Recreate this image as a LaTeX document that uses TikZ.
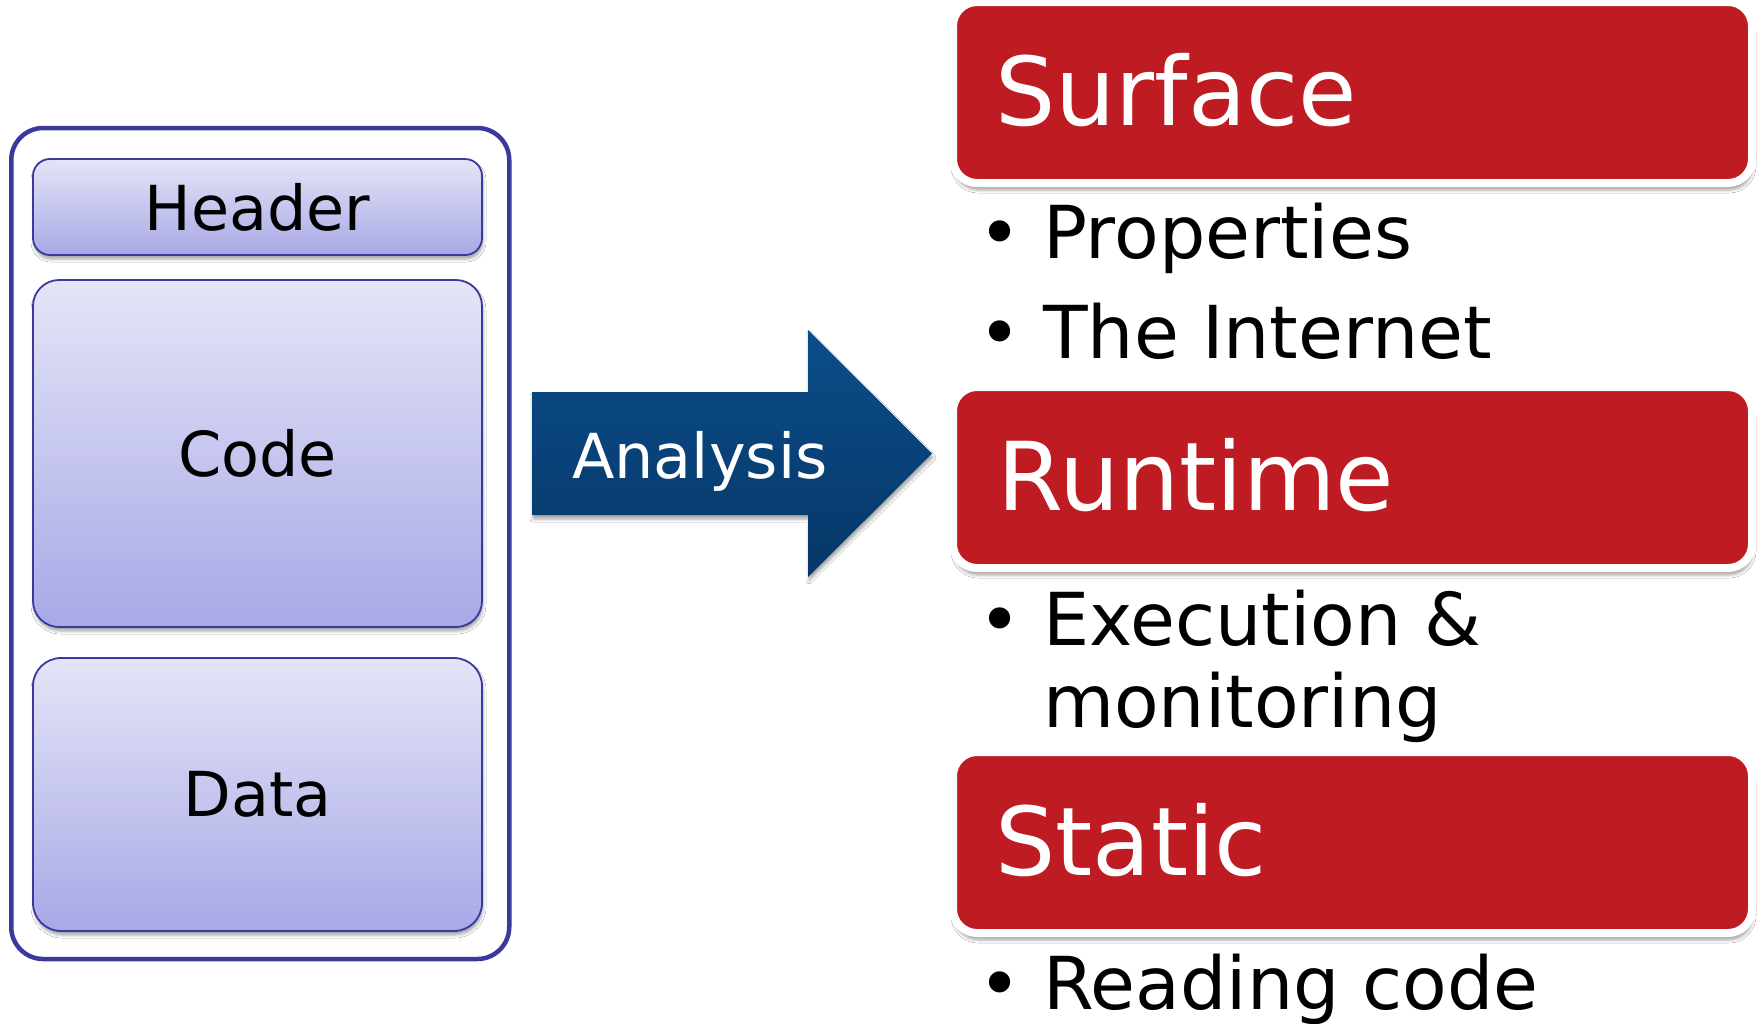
\documentclass[tikz,border=0pt]{standalone}
\usepackage{fontspec}
\setmainfont{DejaVu Sans}
\usetikzlibrary{shadows.blur}

\definecolor{frameblue}{HTML}{3A3A9C}
\definecolor{parttop}{HTML}{E4E5F7}
\definecolor{partbot}{HTML}{A8A8E7}
\definecolor{arrowtop}{HTML}{0B4D8A}
\definecolor{arrowbot}{HTML}{063767}
\definecolor{kindred}{HTML}{BE1B22}

\tikzset{
  softshadow/.style={blur shadow={shadow xshift=1pt, shadow yshift=-4pt,
      shadow blur radius=3pt, shadow opacity=35}},
  container/.style={draw=frameblue, line width=4.5pt, rounded corners=32pt,
      minimum width=498pt, minimum height=831pt, inner sep=0pt},
  part/.style={draw=frameblue, line width=1.8pt, top color=parttop,
      bottom color=partbot, softshadow, minimum width=449pt, inner sep=0pt,
      font=\fontsize{62}{70}\selectfont, text=black},
  kind/.style={fill=kindred, draw=white, line width=8pt, rounded corners=24pt,
      minimum width=799pt, minimum height=181pt, inner sep=0pt,
      blur shadow={shadow xshift=1pt, shadow yshift=-7pt,
      shadow blur radius=3pt, shadow opacity=35}},
  kindtitle/.style={anchor=base west, inner sep=0pt, text=white,
      font=\fontsize{95}{100}\selectfont},
  item/.style={anchor=base west, inner sep=0pt, text=black,
      font=\fontsize{73}{82}\selectfont},
  dot/.style={anchor=base, inner sep=0pt, text=black,
      font=\fontsize{73}{82}\selectfont},
}

\begin{document}
\begin{tikzpicture}[x=1pt, y=-1pt]
\useasboundingbox (0,0) rectangle (1763,1023);
\fill[white] (0,0) rectangle (1763,1023);

% executable file and its parts
\node[container] (file) at (260.25,543.5) {};
\node[part, rounded corners=17pt, minimum height=96pt]  (header) at (257.5,207) {Header};
\node[part, rounded corners=26pt, minimum height=347pt] (code)   at (257.5,453.5) {Code};
\node[part, rounded corners=28pt, minimum height=273pt] (data)   at (257.5,794.5) {Data};

% analysis arrow
\path[top color=arrowtop, bottom color=arrowbot, softshadow]
  (532,392) -- (808,392) -- (808,330) -- (932,453.5) -- (808,577)
  -- (808,515) -- (532,515) -- cycle;
\node[anchor=base west, inner sep=0pt, text=white,
      font=\fontsize{62}{70}\selectfont] (analysis) at (572,478) {Analysis};

% kinds of analysis
\node[kind] (surface) at (1352.5,92.5) {};
\node[kindtitle] (surfacet) at (995,125) {Surface};
\node[dot]  (b1) at (1000,258) {\textbullet};
\node[item] (properties) at (1043,258) {Properties};
\node[dot]  (b2) at (1000,358) {\textbullet};
\node[item] (internet) at (1043,358) {The Internet};

\node[kind] (runtime) at (1352.5,477.5) {};
\node[kindtitle] (runtimet) at (997,510) {Runtime};
\node[dot]  (b3) at (1000,645) {\textbullet};
\node[item] (execution) at (1043,645) {Execution \&};
\node[item] (monitoring) at (1043,727) {monitoring};

\node[kind] (static) at (1352.5,842.5) {};
\node[kindtitle] (statict) at (995,875) {Static};
\node[dot]  (b4) at (1000,1009) {\textbullet};
\node[item] (reading) at (1043,1009) {Reading code};
\end{tikzpicture}
\end{document}
